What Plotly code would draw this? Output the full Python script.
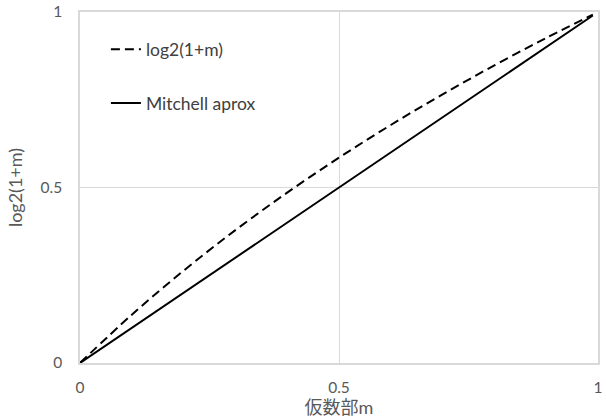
import plotly.graph_objects as go

m_vals = [0, 0.1, 0.2, 0.3, 0.4, 0.5, 0.6, 0.7, 0.8, 0.9, 0.99]
log2_vals = [0, 0.1375, 0.2630, 0.3785, 0.4854, 0.5850, 0.6781, 0.7655, 0.8480, 0.9260, 0.9928]
mitchell_vals = [0, 0.1, 0.2, 0.3, 0.4, 0.5, 0.6, 0.7, 0.8, 0.9, 0.99]
tick_vals = [0, 0.5, 1]
tick_text = ["0", "0.5", "1"]

FONT = "Lato, 'Noto Sans CJK JP', sans-serif"
GRAY = "#595959"
GRID = "#d9d9d9"

fig = go.Figure()
fig.add_trace(go.Scatter(
    x=m_vals, y=log2_vals, mode="lines", name="log2(1+m)",
    line=dict(color="black", width=2, dash="9px,5px", shape="spline"),
    legendgroup="a"))
fig.add_trace(go.Scatter(
    x=m_vals, y=mitchell_vals, mode="lines", name="Mitchell aprox",
    line=dict(color="black", width=2),
    legendgroup="b"))

fig.update_layout(
    width=606, height=418,
    margin=dict(l=80, r=8, t=12, b=55),
    paper_bgcolor="white", plot_bgcolor="white",
    font=dict(family=FONT, size=15.5, color=GRAY),
    showlegend=True,
    legend=dict(x=0.050, y=0.945, xanchor="left", yanchor="top",
                bgcolor="rgba(0,0,0,0)", tracegroupgap=28,
                font=dict(size=17.5, color="#404040")),
    xaxis=dict(range=[0, 1], tickvals=tick_vals, ticktext=tick_text,
               showgrid=True, gridcolor=GRID, gridwidth=1,
               zeroline=False, showline=True, linecolor=GRID, linewidth=1.5, mirror=True,
               ticks="", ticklabelstandoff=10, automargin=False,
               title=dict(text="仮数部m", font=dict(size=18, color=GRAY), standoff=3),
               tickfont=dict(size=15.5, color=GRAY)),
    yaxis=dict(range=[0, 1], tickvals=tick_vals, ticktext=tick_text,
               showgrid=True, gridcolor=GRID, gridwidth=1,
               zeroline=False, showline=True, linecolor=GRID, linewidth=1.5, mirror=True,
               ticks="", ticklabelstandoff=13, automargin=False,
               title=dict(text="log2(1+m)", font=dict(size=18, color=GRAY), standoff=13),
               tickfont=dict(size=15.5, color=GRAY)),
)

fig.write_html("out.html", config={"displayModeBar": False},
               post_script="document.body.style.margin='0';")
